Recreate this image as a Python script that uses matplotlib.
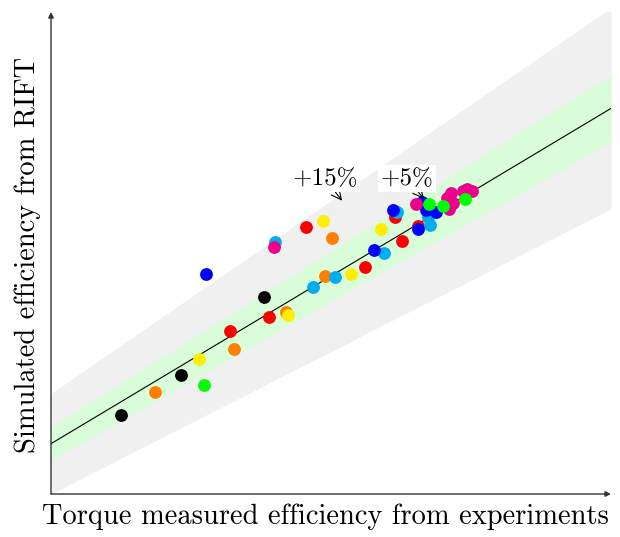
import matplotlib
matplotlib.use("Agg")
import matplotlib.pyplot as plt
import numpy as np

# axis ranges (efficiency)
X_MIN, X_MAX = 0.40, 0.80
Y_MIN, Y_MAX = 0.34, 0.915

# measured (x) vs simulated (y) efficiency, one list pair per series colour
red_x = [0.528, 0.556, 0.582, 0.624, 0.651, 0.646, 0.662]
red_y = [0.535, 0.551, 0.659, 0.611, 0.642, 0.671, 0.660]
orange_x = [0.474, 0.531, 0.568, 0.596, 0.601]
orange_y = [0.462, 0.513, 0.557, 0.600, 0.645]
yellow_x = [0.506, 0.569, 0.594, 0.614, 0.636]
yellow_y = [0.501, 0.554, 0.666, 0.603, 0.656]
cyan_x = [0.560, 0.587, 0.603, 0.638, 0.647, 0.671, 0.669]
cyan_y = [0.641, 0.587, 0.599, 0.627, 0.676, 0.661, 0.671]
blue_x = [0.511, 0.631, 0.644, 0.662, 0.665, 0.668, 0.675]
blue_y = [0.603, 0.631, 0.679, 0.656, 0.688, 0.679, 0.677]
black_x = [0.450, 0.493, 0.552]
black_y = [0.434, 0.482, 0.575]
magenta_x = [0.559, 0.661, 0.683, 0.684, 0.686, 0.687, 0.694, 0.697, 0.701]
magenta_y = [0.635, 0.686, 0.693, 0.680, 0.699, 0.687, 0.701, 0.704, 0.701]
green_x = [0.509, 0.670, 0.680, 0.696]
green_y = [0.470, 0.686, 0.684, 0.692]

series = [
    (red_x, red_y, '#FF0000'),
    (orange_x, orange_y, '#FF7F00'),
    (yellow_x, yellow_y, '#FFEE00'),
    (cyan_x, cyan_y, '#00AEEF'),
    (blue_x, blue_y, '#0000FF'),
    (black_x, black_y, '#000000'),
    (magenta_x, magenta_y, '#EC008C'),
    (green_x, green_y, '#00FF00'),
]

FONT = 'cmr10'

fig = plt.figure(figsize=(6.2, 5.37), dpi=100)
ax = fig.add_axes([51/620, 43/537, 560/620, 482/537])
ax.set_xlim(X_MIN, X_MAX)
ax.set_ylim(Y_MIN, Y_MAX)

#tolerance bands around y = x
xs = np.array([X_MIN, X_MAX])
ax.fill_between(xs, 0.85*xs, 1.15*xs, color='#F0F0F0', lw=0, zorder=1)
ax.fill_between(xs, 0.95*xs, 1.05*xs, color='#D9FCD9', lw=0, zorder=2)
ax.plot(xs, xs, color='black', lw=0.8, zorder=3)

for x, y, c in series:
    ax.scatter(x, y, s=85, color=c, lw=0, zorder=4)

#band labels
ax.annotate('+15%', xy=(0.6079, 0.6899), xytext=(0.5957, 0.716),
            ha='center', va='center', fontsize=18, family=FONT,
            bbox=dict(boxstyle='square,pad=0.1', fc='white', ec='none'),
            arrowprops=dict(arrowstyle='->', color='black', lw=0.8, shrinkA=0, shrinkB=0),
            zorder=6)
ax.annotate('+5%', xy=(0.6664, 0.6922), xytext=(0.6543, 0.716),
            ha='center', va='center', fontsize=18, family=FONT,
            bbox=dict(boxstyle='square,pad=0.1', fc='white', ec='none'),
            arrowprops=dict(arrowstyle='->', color='black', lw=0.8, shrinkA=0, shrinkB=0),
            zorder=6)

#axes drawn as arrows
for s in ax.spines.values():
    s.set_visible(False)
ax.set_xticks([])
ax.set_yticks([])
ax.annotate('', xy=(1.0, 0), xytext=(0, 0), xycoords='axes fraction',
            arrowprops=dict(arrowstyle='-|>', color='#333333', lw=1.0, shrinkA=0, shrinkB=0,
                            mutation_scale=8))
ax.annotate('', xy=(0, 1.0), xytext=(0, 0), xycoords='axes fraction',
            arrowprops=dict(arrowstyle='-|>', color='#333333', lw=1.0, shrinkA=0, shrinkB=0,
                            mutation_scale=8))

fig.text(325/620, 1 - 517/537, 'Torque measured efficiency from experiments',
         ha='center', va='center', fontsize=20.5, family=FONT)
fig.text(28/620, 1 - 255/537, 'Simulated efficiency from RIFT',
         ha='center', va='center', rotation=90, fontsize=20.5, family=FONT)

fig.savefig('out.png', dpi=100)
